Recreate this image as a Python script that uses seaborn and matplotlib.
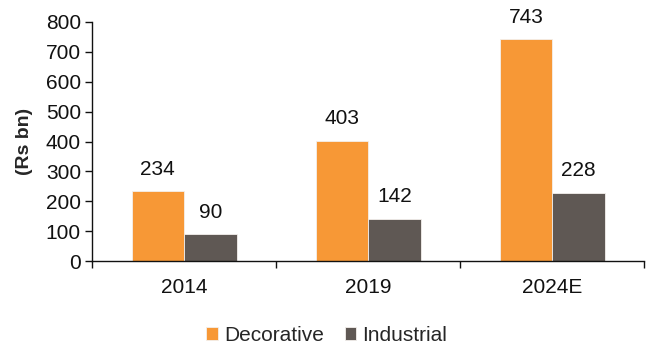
import matplotlib
matplotlib.use("Agg")
import matplotlib.pyplot as plt
from matplotlib.ticker import FixedLocator, NullFormatter
import seaborn as sns
import pandas as pd

years = ["2014", "2019", "2024E"]
decorative = [234, 403, 743]
industrial = [90, 142, 228]
series_names = ["Decorative", "Industrial"]
y_ticks = [0, 100, 200, 300, 400, 500, 600, 700, 800]

sns.set_theme(style="white")
plt.rcParams["font.family"] = ["Liberation Sans", "DejaVu Sans"]

df = pd.DataFrame({
    "year": years * 2,
    "value": decorative + industrial,
    "segment": [series_names[0]] * len(years) + [series_names[1]] * len(years),
})

fig = plt.figure(figsize=(6.46, 3.47), dpi=100)
ax = fig.add_axes([0.1424, 0.2478, 0.855, 0.6888])

palette = {"Decorative": "#F79836", "Industrial": "#5F5854"}
sns.barplot(data=df, x="year", y="value", hue="segment", palette=palette,
            width=0.57, saturation=1, edgecolor="#f4f0ec", linewidth=0.6, ax=ax)

for container in ax.containers:
    ax.bar_label(container, labels=[f"{v:.0f}" for v in container.datavalues],
                 padding=9, fontsize=15, color="#111111")

ax.set_ylim(0, 800)
ax.set_xlim(-0.5, 2.5)
ax.set_yticks(y_ticks)
ax.set_ylabel("(Rs bn)", fontsize=14, fontweight="bold", labelpad=9)
ax.set_xlabel("")

for side in ["top", "right"]:
    ax.spines[side].set_visible(False)
for side in ["left", "bottom"]:
    ax.spines[side].set_color("#111111")
    ax.spines[side].set_linewidth(1.0)

ax.tick_params(axis="y", which="major", left=True, length=5, width=1,
               color="#111111", labelsize=15, pad=3, labelcolor="#111111")
ax.tick_params(axis="x", which="major", bottom=False, length=0,
               labelsize=15, pad=12, labelcolor="#111111")
ax.xaxis.set_minor_locator(FixedLocator([-0.5, 0.5, 1.5, 2.5]))
ax.xaxis.set_minor_formatter(NullFormatter())
ax.tick_params(axis="x", which="minor", bottom=True, length=5, width=1,
               color="#111111")

handles, labels = ax.get_legend_handles_labels()
ax.legend(handles, labels, loc="lower center", bbox_to_anchor=(0.425, -0.43),
          ncol=2, frameon=False, fontsize=15, handlelength=0.55,
          handleheight=0.55, handletextpad=0.3, columnspacing=1.0)

fig.savefig("out.png", dpi=100)
